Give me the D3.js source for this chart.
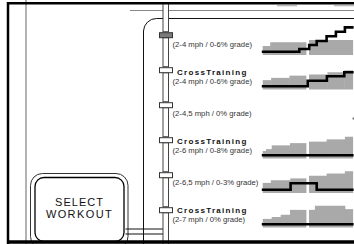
<!DOCTYPE html>
<html>
<head>
<meta charset="utf-8">
<script src="https://cdn.jsdelivr.net/npm/d3@7"></script>
<style>
  body { margin: 0; background: #fff; }
  svg { display: block; font-family: "Liberation Sans", Arial, sans-serif; }
</style>
</head>
<body>
<div id="chart"></div>
<script>
// workout programs, top to bottom
var workoutTitles = ["", "CrossTraining", "", "CrossTraining", "", "CrossTraining"];
var workoutRanges = [
  "(2-4 mph / 0-6% grade)",
  "(2-4 mph / 0-6% grade)",
  "(2-4,5 mph / 0% grade)",
  "(2-6 mph / 0-8% grade)",
  "(2-6,5 mph / 0-3% grade)",
  "(2-7 mph / 0% grade)"
];
// speed profile steps: [start min, end min, mph]
var speedSteps = [
  [[0, 2.5, 2.4], [2.5, 15, 3.4], [15, 30, 4.0]],
  [[0, 2.8, 2.5], [2.8, 8.9, 3.1], [8.9, 15, 3.7], [15, 21.6, 4.0], [21.6, 27.2, 4.6], [27.2, 30, 5.1]],
  [],
  [[0, 1.1, 2.0], [1.1, 3.0, 2.5], [3.0, 9.1, 3.5], [9.1, 15, 4.1], [15, 21.3, 4.5], [21.3, 27.4, 5.1], [27.4, 30, 5.8]],
  [[0, 2.7, 2.7], [2.7, 9.2, 3.4], [9.2, 15, 3.9], [15, 21.3, 4.6], [21.3, 27.4, 5.2], [27.4, 30, 5.8]],
  [[0, 3, 2.3], [3, 6, 2.8], [6, 9.1, 3.4], [9.1, 15, 4.7], [15, 17.4, 4.7], [17.4, 27.4, 5.8], [27.4, 30, 4.9]]
];
// grade profile steps: [start min, end min, grade]
var gradeSteps = [
  [[0, 12.2, 0], [12.2, 15.5, 0.7], [15.5, 18, 1.7], [18, 21.3, 2.7], [21.3, 24.4, 3.9], [24.4, 27.4, 5.0], [27.4, 30.3, 6.1]],
  [[0, 15, 0], [15, 21.4, 1.4], [21.4, 27.2, 2.5], [27.2, 30.3, 3.5]],
  [],
  [[0, 30.3, 0]],
  [[0, 9.3, 0], [9.3, 18, 1.65], [18, 30.3, 0]],
  [[0, 30.3, 0]]
];
var blockBreaks = [15];
var buttonLines = ["SELECT", "WORKOUT"];

var W = 354, H = 244;
var svg = d3.select("#chart").append("svg")
  .attr("width", W)
  .attr("height", H);

var x = d3.scaleLinear().domain([0, 30]).range([262.7, 352.7]);
var speedH = d3.scaleLinear().domain([0, 8]).range([0, 30]);
var gradeH = d3.scaleLinear().domain([0, 8]).range([0, 32]);
var rowBase = d3.scaleLinear().domain([0, 5]).range([55, 227.5]);
var tabY = d3.scaleLinear().domain([0, 5]).range([35.2, 210.2]);

// frame
svg.append("line").attr("x1", 26).attr("x2", 26).attr("y1", 0).attr("y2", H)
  .attr("stroke", "#999").attr("stroke-width", 1.5);
svg.append("line").attr("x1", 130).attr("x2", W).attr("y1", 10.5).attr("y2", 10.5)
  .attr("stroke", "#888").attr("stroke-width", 1.2);
svg.append("rect").attr("x", 277).attr("y", 5).attr("width", 20).attr("height", 1.3).attr("fill", "#bbb");
svg.append("rect").attr("x", 334).attr("y", 5).attr("width", 20).attr("height", 1.3).attr("fill", "#bbb");
svg.append("path")
  .attr("d", "M143.5," + H + " V31 A13,13 0 0 1 156.5,18.5 H" + W)
  .attr("fill", "none").attr("stroke", "#111").attr("stroke-width", 1);

// select workout box
svg.append("rect").attr("x", 30.5).attr("y", 173.5).attr("width", 97.5).attr("height", 75).attr("rx", 12)
  .attr("fill", "none").attr("stroke", "#333").attr("stroke-width", 1);
svg.append("rect").attr("x", 35).attr("y", 177.5).attr("width", 89).attr("height", 64).attr("rx", 9)
  .attr("fill", "#fff").attr("stroke", "#000").attr("stroke-width", 1.3);
buttonLines.forEach(function(t, i) {
  svg.append("text").attr("text-anchor", "middle")
    .attr("x", 79.5).attr("y", 205.6 + i * 12.4)
    .style("font-size", "11px").style("letter-spacing", i === 0 ? "1px" : "1.4px")
    .attr("fill", "#111").text(t);
});
[229, 234].forEach(function(yy) {
  svg.append("line").attr("x1", 125.5).attr("x2", 163).attr("y1", yy).attr("y2", yy)
    .attr("stroke", "#111").attr("stroke-width", 1);
});

// rail segments between tabs
var rail = svg.append("g");
var segTops = [3].concat(d3.range(6).map(function(i) { return tabY(i) + 2.5; }));
var segBots = d3.range(6).map(function(i) { return tabY(i) - 3.5; }).concat([H + 2]);
segTops.forEach(function(t, i) {
  rail.append("rect")
    .attr("x", 163).attr("y", t).attr("width", 5.5).attr("height", segBots[i] - t)
    .attr("fill", "#fff").attr("stroke", "#444").attr("stroke-width", 1);
});
rail.selectAll("rect.tab")
  .data(d3.range(6))
  .enter().append("rect")
  .attr("class", "tab")
  .attr("x", 159.5).attr("y", function(i) { return tabY(i) - 2.5; })
  .attr("width", 13).attr("height", 5)
  .attr("fill", function(i) { return i === 0 ? "#7a7a7a" : "#fff"; })
  .attr("stroke", "#333").attr("stroke-width", 1);

// labels
workoutRanges.forEach(function(r, i) {
  var B = rowBase(i);
  if (workoutTitles[i]) {
    svg.append("text").attr("x", 177).attr("y", B - 14.5)
      .style("font-size", "8px").style("font-weight", "bold").style("letter-spacing", "1.3px")
      .attr("fill", "#111").text(workoutTitles[i]);
    svg.append("text").attr("x", 172.5).attr("y", B - 5.5)
      .style("font-size", "7.7px").attr("fill", "#333").text(r);
  } else {
    svg.append("text").attr("x", 172.5).attr("y", B - 8)
      .style("font-size", "7.7px").attr("fill", "#333").text(r);
  }
});

// profiles
var gap = 1.3;
var line = d3.line().x(function(d) { return x(d[0]); }).y(function(d) { return d[1]; });
speedSteps.forEach(function(steps, i) {
  var B = rowBase(i);
  var g = svg.append("g");
  g.selectAll("rect")
    .data(steps)
    .enter().append("rect")
    .attr("x", function(d) { return x(d[0]) + (blockBreaks.indexOf(d[0]) >= 0 ? gap : 0); })
    .attr("width", function(d) {
      var x0 = x(d[0]) + (blockBreaks.indexOf(d[0]) >= 0 ? gap : 0);
      var x1 = x(d[1]) - (blockBreaks.indexOf(d[1]) >= 0 ? gap : -0.4);
      return x1 - x0;
    })
    .attr("y", function(d) { return B - speedH(d[2]); })
    .attr("height", function(d) { return speedH(d[2]); })
    .attr("fill", "#a9a9a9");
  var pts = [];
  gradeSteps[i].forEach(function(s) {
    pts.push([s[0], B - 3.2 - gradeH(s[2])]);
    pts.push([s[1], B - 3.2 - gradeH(s[2])]);
  });
  if (pts.length) {
    pts[0][0] = -0.3;
    g.append("path").attr("d", line(pts))
      .attr("fill", "none").attr("stroke", "#000").attr("stroke-width", 2.6)
      .attr("stroke-linejoin", "miter");
  }
});
// small mark cut at right edge, row 3
svg.append("rect").attr("x", x(30)).attr("y", rowBase(2) - 6.5).attr("width", 1).attr("height", 2).attr("fill", "#333");

// outer border
svg.append("line").attr("x1", 7).attr("x2", W).attr("y1", 3.2).attr("y2", 3.2)
  .attr("stroke", "#000").attr("stroke-width", 2.5);
svg.append("line").attr("x1", 8).attr("x2", 8).attr("y1", 2).attr("y2", H)
  .attr("stroke", "#000").attr("stroke-width", 2.5);
svg.append("line").attr("x1", 7).attr("x2", W).attr("y1", 242).attr("y2", 242)
  .attr("stroke", "#000").attr("stroke-width", 3.5);
</script>
</body>
</html>
